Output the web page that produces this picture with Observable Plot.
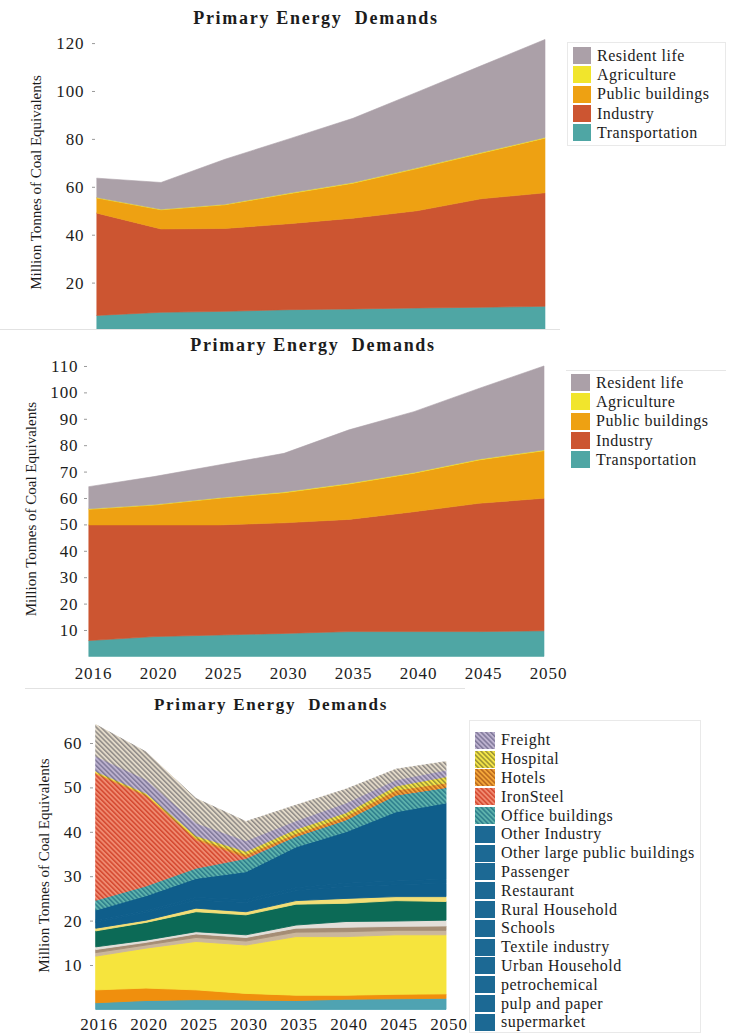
<!DOCTYPE html>
<html>
<head>
<meta charset="utf-8">
<script src="https://cdn.jsdelivr.net/npm/d3@7"></script>
<script src="https://cdn.jsdelivr.net/npm/@observablehq/plot@0.6"></script>
<style>
  html, body { margin: 0; background: #fff; }
  #page { position: relative; width: 740px; height: 1035px; overflow: hidden;
          font-family: "Liberation Serif", "Times New Roman", serif; color: #1c1c1c; }
  .panel { position: absolute; left: 0; }
  .panel svg.plot { display: block; overflow: visible; max-width: none; }
  #page svg text { font-family: "Liberation Serif", "Times New Roman", serif; }
  .title { position: absolute; font-weight: bold; font-size: 18px; letter-spacing: 1.7px;
           white-space: pre; transform: translate(-50%, -50%); }
  .legend { position: absolute; box-sizing: border-box; font-size: 16px; letter-spacing: 0.5px; }
  .legend .item { display: flex; align-items: center; white-space: nowrap; }
  .legend .item svg { display: block; margin-right: 6px; flex: none; }
  .rule { position: absolute; height: 1px; background: #e2e2e2; }
  g[aria-label$="tick label"] text { font-size: 17px; letter-spacing: 0.9px; }
  g[aria-label="y-axis label"] text { font-size: 15px; letter-spacing: 0; }
</style>
</head>
<body>
<div id="page"></div>
<script>
// ---------- shared ----------
const years = ["2016", "2020", "2025", "2030", "2035", "2040", "2045", "2050"];
const yLabel = "Million Tonnes of Coal Equivalents";
const chartTitle = "Primary Energy  Demands";

// ---------- sector charts (Mtce) ----------
const sectors = ["Transportation", "Industry", "Public buildings", "Agriculture", "Resident life"]; // stack order, bottom first
const sectorColors = ["#4fa6a4", "#cc5531", "#eea112", "#f1e52c", "#aba0a8"];

// first scenario
const transportA   = [6.3, 7.6, 8.0, 8.7, 9.0, 9.4, 9.7, 10.1];
const industryA    = [42.7, 34.8, 34.6, 35.9, 37.9, 40.6, 45.3, 47.4];
const publicA      = [6.3, 8.0, 9.9, 12.5, 14.6, 17.6, 19.0, 22.8];
const agricultureA = [0.2, 0.2, 0.2, 0.3, 0.3, 0.3, 0.3, 0.3];
const residentA    = [8.1, 11.2, 18.8, 22.6, 26.8, 31.6, 36.2, 40.9];
const ticksA = [20, 40, 60, 80, 100, 120];

// second scenario
const transportB   = [6.0, 7.5, 8.1, 8.7, 9.4, 9.4, 9.4, 9.7];
const industryB    = [43.8, 42.3, 41.7, 41.9, 42.5, 45.4, 48.6, 50.2];
const publicB      = [5.9, 7.5, 10.1, 11.4, 13.4, 14.6, 16.4, 18.0];
const agricultureB = [0.2, 0.2, 0.2, 0.3, 0.3, 0.3, 0.3, 0.3];
const residentB    = [8.4, 10.6, 12.4, 14.6, 20.2, 23.0, 26.8, 31.8];
const ticksB = [10, 20, 30, 40, 50, 60, 70, 80, 90, 100, 110];

// ---------- end-use chart (Mtce) ----------
const supermarket      = [1.5, 2.0, 2.2, 2.1, 2.0, 2.3, 2.4, 2.5];
const pulpPaper        = [2.9, 2.8, 2.2, 1.5, 1.2, 0.9, 1.0, 1.0];
const petrochemical    = [7.6, 9.0, 10.9, 10.9, 13.2, 13.2, 13.4, 13.3];
const urbanHousehold   = [0.8, 0.7, 0.9, 0.9, 1.0, 1.1, 1.0, 1.0];
const textileIndustry  = [0.7, 0.6, 0.8, 0.8, 0.9, 1.0, 0.9, 1.0];
const schools          = [0.6, 0.5, 0.5, 0.6, 0.7, 1.3, 1.2, 1.3];
const ruralHousehold   = [3.6, 4.0, 4.5, 4.5, 4.7, 4.1, 4.6, 4.2];
const restaurant       = [0.6, 0.5, 0.8, 0.7, 0.8, 1.1, 0.9, 1.1];
const passenger        = [1.4, 1.7, 1.8, 2.1, 2.2, 2.6, 2.7, 3.0];
const otherLargePublic = [0.4, 0.5, 0.6, 0.6, 0.7, 0.8, 0.8, 0.9];
const otherIndustry    = [2.3, 3.3, 4.3, 6.3, 9.2, 11.6, 15.6, 17.2];
const officeBuildings  = [2.2, 2.2, 2.3, 3.0, 2.4, 2.7, 3.8, 3.5];
const ironSteel        = [28.4, 20.3, 6.4, 0.3, 0, 0, 0, 0];
const hotels           = [0.3, 0.3, 0.4, 0.6, 0.6, 0.8, 1.1, 1.0];
const hospital         = [0.3, 0.3, 0.5, 0.7, 1.0, 0.8, 0.9, 1.4];
const freight          = [3.4, 3.1, 2.9, 2.4, 1.9, 2.2, 1.4, 1.5];
const otherSectors     = [7.1, 6.2, 5.5, 4.3, 3.5, 3.1, 2.4, 1.9];
const ticksC = [10, 20, 30, 40, 50, 60];

const endUses = ["supermarket", "pulp and paper", "petrochemical", "Urban Household", "Textile industry",
  "Schools", "Rural Household", "Restaurant", "Passenger", "Other large public buildings", "Other Industry",
  "Office buildings", "IronSteel", "Hotels", "Hospital", "Freight", "Other sectors"]; // stack order, bottom first
const endUseValues = [supermarket, pulpPaper, petrochemical, urbanHousehold, textileIndustry, schools,
  ruralHousehold, restaurant, passenger, otherLargePublic, otherIndustry, officeBuildings, ironSteel,
  hotels, hospital, freight, otherSectors];

// diagonal hatch fills: id, base colour, stripe colour
const hatchIds    = ["hatch-office", "hatch-iron", "hatch-hotels", "hatch-hospital", "hatch-freight", "hatch-other"];
const hatchBase   = ["#5db2ac", "#ef8a70", "#f3a63a", "#f4e548", "#bdb2cf", "#e2d9c8"];
const hatchStripe = ["#2c7d8c", "#d4472f", "#b8661c", "#9a9233", "#7f7899", "#8f8a86"];
const endUseFills = ["#4fa3b2", "#f08f0d", "#f6e43d", "#cab69c", "#a58d75", "#e3dfd9", "#0c6a56",
  "#f3de76", "#0f5e8b", "#0f5e8b", "#0f5e8b",
  "url(#hatch-office)", "url(#hatch-iron)", "url(#hatch-hotels)", "url(#hatch-hospital)",
  "url(#hatch-freight)", "url(#hatch-other)"];
const plainSwatch = "#1c6994";

// ---------- helpers ----------
const page = d3.select("#page");

function toRows(names, series) {
  return names.flatMap((name, i) => years.map((year, j) => ({year, sector: name, value: series[i][j]})));
}

function addTitle(x, y, size) {
  page.append("div").attr("class", "title")
    .style("left", x + "px").style("top", y + "px").style("font-size", size + "px")
    .text(chartTitle);
}

function addRule(left, top, width) {
  page.append("div").attr("class", "rule")
    .style("left", left + "px").style("top", top + "px").style("width", width + "px");
}

function addLegend({left, top, width, height, border, pitch, sw, sh, names, fills, padTop}) {
  const box = page.append("div").attr("class", "legend")
    .style("left", left + "px").style("top", top + "px")
    .style("width", width + "px").style("height", height + "px")
    .style("padding", `${padTop}px 0 0 5px`);
  if (border === "box") box.style("border", "1px solid #e9e9e9");
  if (border === "top") box.style("border-top", "1px solid #e6e6e6");
  names.forEach((name, i) => {
    const item = box.append("div").attr("class", "item").style("height", pitch + "px");
    item.append("svg").attr("width", sw).attr("height", sh)
      .append("rect").attr("width", sw).attr("height", sh).attr("fill", fills[i]);
    item.append("span").text(name);
  });
}

function plotStyle() {
  return {fontFamily: "Liberation Serif, serif", fontSize: "16px", color: "#1c1c1c", background: "transparent"};
}

// pattern definitions used by the hatched areas and their legend swatches
const defs = page.append("svg").attr("width", 0).attr("height", 0)
  .style("position", "absolute").append("defs");
hatchIds.forEach((id, i) => {
  const p = defs.append("pattern").attr("id", id).attr("patternUnits", "userSpaceOnUse")
    .attr("width", 3.4).attr("height", 3.4).attr("patternTransform", "rotate(-45)");
  p.append("rect").attr("width", 3.4).attr("height", 3.4).attr("fill", hatchBase[i]);
  p.append("rect").attr("width", 1.5).attr("height", 3.4).attr("fill", hatchStripe[i]);
});

// ---------- chart 1 ----------
const rowsA = toRows(sectors, [transportA, industryA, publicA, agricultureA, residentA]);
const chartA = Plot.plot({
  width: 560, height: 334,
  marginLeft: 95, marginRight: 13, marginTop: 33.5, marginBottom: 3.5,
  style: plotStyle(),
  x: {type: "point", domain: years, padding: 0, axis: null},
  y: {domain: [0, 124], axis: null},
  color: {domain: sectors, range: sectorColors},
  marks: [
    Plot.areaY(rowsA, {x: "year", y: "value", fill: "sector", stroke: "sector", strokeWidth: 0.6}),
    Plot.axisY(ticksA, {tickSize: 3, tickPadding: 8, stroke: "#9a9a9a",
      label: yLabel, labelAnchor: "center", labelOffset: 65, labelArrow: "none"})
  ]
});
page.append("div").attr("class", "panel").style("top", "0px").node().append(chartA);
addTitle(316, 18, 18);
addLegend({left: 567, top: 42, width: 159, height: 104, border: "box", pitch: 19.3, sw: 18, sh: 17,
  names: sectors.slice().reverse(), fills: sectorColors.slice().reverse(), padTop: 3});

// ---------- chart 2 ----------
const rowsB = toRows(sectors, [transportB, industryB, publicB, agricultureB, residentB]);
const chartB = Plot.plot({
  width: 570, height: 357,
  marginLeft: 87, marginRight: 24, marginTop: 30.7, marginBottom: 30.6,
  style: plotStyle(),
  x: {type: "point", domain: years, padding: 0, axis: null},
  y: {domain: [0, 112], axis: null},
  color: {domain: sectors, range: sectorColors},
  marks: [
    Plot.areaY(rowsB, {x: "year", y: "value", fill: "sector", stroke: "sector", strokeWidth: 0.6}),
    Plot.axisX({tickSize: 0, tickPadding: 10, dx: 4, label: null}),
    Plot.axisY(ticksB, {tickSize: 3, tickPadding: 6, stroke: "#9a9a9a",
      label: yLabel, labelAnchor: "center", labelOffset: 62, labelArrow: "none"})
  ]
});
page.append("div").attr("class", "panel").style("top", "330px").style("background", "#fff")
  .node().append(chartB);
addRule(0, 329, 560);
addTitle(313, 345, 18);
addLegend({left: 566, top: 370, width: 160, height: 100, border: "top", pitch: 19.3, sw: 19, sh: 17,
  names: sectors.slice().reverse(), fills: sectorColors.slice().reverse(), padTop: 2});

// ---------- chart 3 ----------
const rowsC = toRows(endUses, endUseValues);
const chartC = Plot.plot({
  width: 470, height: 350,
  marginLeft: 93, marginRight: 22, marginTop: 35.8, marginBottom: 25.6,
  style: plotStyle(),
  x: {type: "point", domain: years, padding: 0, axis: null},
  y: {domain: [0, 65], axis: null},
  color: {domain: endUses, range: endUseFills},
  marks: [
    Plot.areaY(rowsC, {x: "year", y: "value", fill: "sector", stroke: "sector", strokeWidth: 0.9}),
    Plot.axisX({tickSize: 0, tickPadding: 8, dx: 2.5, label: null}),
    Plot.axisY(ticksC, {tickSize: 3, tickPadding: 8, stroke: "#9a9a9a",
      label: yLabel, labelAnchor: "center", labelOffset: 55, labelArrow: "none"})
  ]
});
page.append("div").attr("class", "panel").style("top", "685px").style("background", "#fff")
  .node().append(chartC);
addRule(25, 688, 440);
addTitle(271, 705, 17);
const legendNames = endUses.slice(0, 16).reverse();
const legendFills = endUseFills.slice(0, 16).reverse().map(f => f.startsWith("url") ? f : plainSwatch);
addLegend({left: 469, top: 720, width: 232, height: 313, border: "box", pitch: 18.8, sw: 20, sh: 17,
  names: legendNames, fills: legendFills, padTop: 10});
</script>
</body>
</html>
